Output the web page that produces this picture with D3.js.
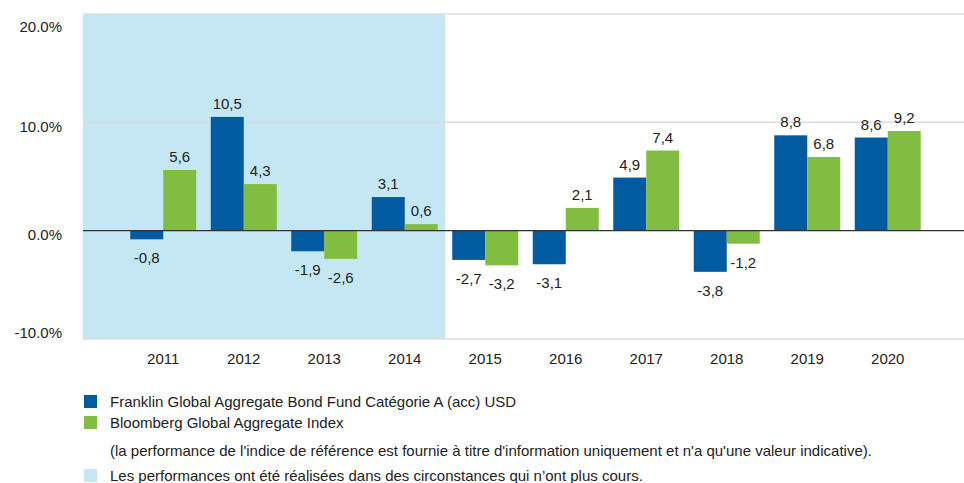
<!DOCTYPE html>
<html>
<head>
<meta charset="utf-8">
<script src="https://cdn.jsdelivr.net/npm/d3@7"></script>
<style>
  body { margin: 0; background: #fff; }
  svg { font-family: "Liberation Sans", Arial, sans-serif; }
</style>
</head>
<body>
<svg width="964" height="483"></svg>
<script>
const years = ["2011", "2012", "2013", "2014", "2015", "2016", "2017", "2018", "2019", "2020"];
const fundValues = [-0.8, 10.5, -1.9, 3.1, -2.7, -3.1, 4.9, -3.8, 8.8, 8.6];
const indexValues = [5.6, 4.3, -2.6, 0.6, -3.2, 2.1, 7.4, -1.2, 6.8, 9.2];
const yTicks = [-10, 0, 10, 20];
const shadedYears = ["2011", "2012", "2013", "2014"];
const seriesNames = [
    "Franklin Global Aggregate Bond Fund Catégorie A (acc) USD",
    "Bloomberg Global Aggregate Index"
];
const noteText = "(la performance de l'indice de référence est fournie à titre d'information uniquement et n'a qu'une valeur indicative).";
const shadeText = "Les performances ont été réalisées dans des circonstances qui n’ont plus cours.";

const blue = "#005ba1";
const green = "#80bd41";
const shade = "#c5e7f3";

const svg = d3.select("svg");
const plotLeft = 83, plotRight = 964;

const x = d3.scaleBand()
    .domain(years)
    .range([123, 928]);

const sub = d3.scaleBand()
    .domain(["fund", "index"])
    .range([0, x.bandwidth()])
    .paddingOuter(0.22)
    .paddingInner(0);

const y = d3.scaleLinear()
    .domain([-10, 20])
    .range([339, 14]);

// shaded period
const lastShaded = shadedYears[shadedYears.length - 1];
svg.append("rect")
    .attr("x", plotLeft)
    .attr("y", y(20))
    .attr("width", x(lastShaded) + x.bandwidth() - plotLeft)
    .attr("height", y(-10) - y(20))
    .attr("fill", shade);

// gridlines
svg.append("g")
    .selectAll("line")
    .data(yTicks.filter(d => d !== 0))
    .enter().append("line")
    .attr("x1", plotLeft)
    .attr("x2", plotRight)
    .attr("y1", d => y(d))
    .attr("y2", d => y(d))
    .attr("stroke", "#dcdcdc")
    .attr("stroke-width", 1.5);

// y tick labels
svg.append("g")
    .selectAll("text")
    .data(yTicks)
    .enter().append("text")
    .attr("x", 62)
    .attr("y", d => Math.min(Math.max(y(d) + 4, 27), 333))
    .attr("dy", "0.35em")
    .attr("text-anchor", "end")
    .attr("font-size", 15)
    .attr("fill", "#222")
    .text(d => d.toFixed(1) + "%");

// bars
const rows = years.map((yr, i) => [
    { year: yr, key: "fund", value: fundValues[i] },
    { year: yr, key: "index", value: indexValues[i] }
]).flat();

svg.append("g")
    .selectAll("rect")
    .data(rows)
    .enter().append("rect")
    .attr("x", d => x(d.year) + sub(d.key))
    .attr("width", sub.bandwidth())
    .attr("y", d => y(Math.max(0, d.value)))
    .attr("height", d => Math.abs(y(d.value) - y(0)))
    .attr("fill", d => d.key === "fund" ? blue : green);

// zero line
svg.append("line")
    .attr("x1", plotLeft)
    .attr("x2", plotRight)
    .attr("y1", y(0))
    .attr("y2", y(0))
    .attr("stroke", "#333")
    .attr("stroke-width", 1.2);

// value labels
const fmt = v => v.toFixed(1).replace(".", ",");
svg.append("g")
    .selectAll("text")
    .data(rows)
    .enter().append("text")
    .attr("x", d => x(d.year) + sub(d.key) + sub.bandwidth() / 2)
    .attr("y", d => d.value >= 0 ? y(d.value) - 8 : y(d.value) + 24)
    .attr("text-anchor", "middle")
    .attr("font-size", 15)
    .attr("fill", "#222")
    .text(d => fmt(d.value));

// x axis labels
svg.append("g")
    .selectAll("text")
    .data(years)
    .enter().append("text")
    .attr("x", d => x(d) + x.bandwidth() / 2)
    .attr("y", 364)
    .attr("text-anchor", "middle")
    .attr("font-size", 15)
    .attr("fill", "#222")
    .text(d => d);

// legend
const legend = svg.append("g").attr("font-size", 15).attr("fill", "#222");
const legendRows = [
    { color: blue, text: seriesNames[0], cy: 402 },
    { color: green, text: seriesNames[1], cy: 423 },
    { color: null, text: noteText, cy: 451 },
    { color: shade, text: shadeText, cy: 476 }
];
legendRows.forEach(r => {
    if (r.color) {
        legend.append("rect")
            .attr("x", 84).attr("y", r.cy - 7)
            .attr("width", 13).attr("height", 13)
            .attr("fill", r.color);
    }
    legend.append("text")
        .attr("x", 110).attr("y", r.cy)
        .attr("dy", "0.35em")
        .text(r.text);
});
</script>
</body>
</html>
